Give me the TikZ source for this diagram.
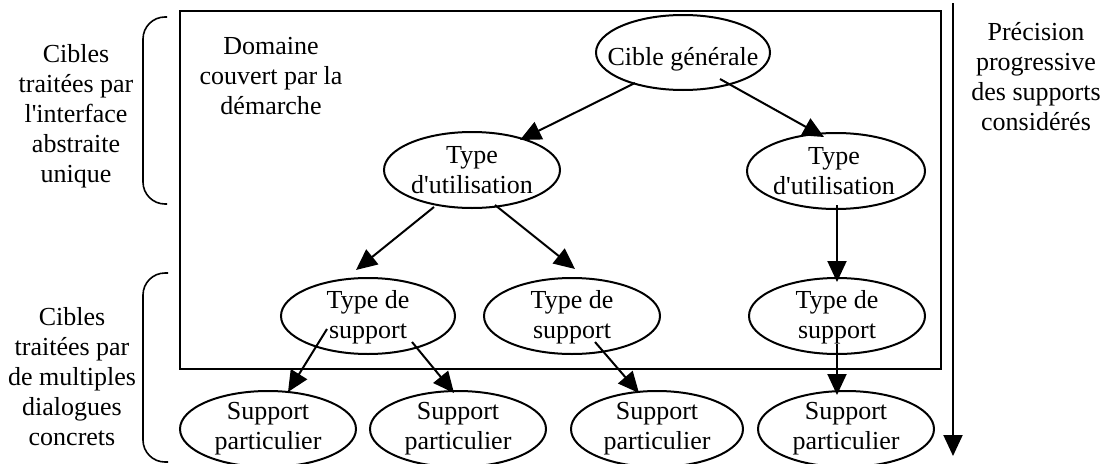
\documentclass[tikz,border=0pt]{standalone}
\usepackage{fontspec}
\setmainfont{Liberation Serif}
\usetikzlibrary{shapes.geometric,arrows.meta,calc}
\begin{document}
\begin{tikzpicture}[x=1pt,y=-1pt,
  font=\fontsize{26}{30}\selectfont,
  oval/.style={draw, ellipse, line width=2pt, minimum width=176pt,
               minimum height=76pt, inner sep=0pt},
  txt/.style={inner sep=0pt, align=center, anchor=north},
  link/.style={line width=2pt, -{Triangle[length=21pt,width=19pt]}},
  brace/.style={line width=1.6pt, rounded corners=22pt},
]
\useasboundingbox (0,0) rectangle (1116,463);
\clip (0,0) rectangle (1116,463);

% frame of the covered domain
\node[draw, line width=2.2pt, minimum width=761pt, minimum height=358pt,
      inner sep=0pt, anchor=north west] (dom) at (179,10) {};
\node[txt] (domt) at (271,37) {Domaine\\couvert par la\\démarche};

% ovals
\node[oval, minimum width=174pt, minimum height=75pt] (cg) at (683,52.5) {};
\node[oval] (tu1) at (472,170) {};
\node[oval, minimum width=178pt] (tu2) at (836,171) {};
\node[oval, minimum width=174pt] (ts1) at (368,316) {};
\node[oval] (ts2) at (572,316) {};
\node[oval] (ts3) at (837,316) {};
\node[oval] (sp1) at (268,429) {};
\node[oval] (sp2) at (458,429) {};
\node[oval, minimum width=172pt] (sp3) at (657,429) {};
\node[oval] (sp4) at (846,429) {};

% oval texts
\node[inner sep=0pt, anchor=base] (cgt) at (683,65) {Cible générale};
\node[txt] (tu1t) at (472,146) {Type\\d\textquotesingle utilisation};
\node[txt] (tu2t) at (834,147) {Type\\d\textquotesingle utilisation};
\node[txt] (ts1t) at (368,290) {Type de\\support};
\node[txt] (ts2t) at (572,290) {Type de\\support};
\node[txt] (ts3t) at (837,290) {Type de\\support};
\node[txt] (sp1t) at (268,402) {Support\\particulier};
\node[txt] (sp2t) at (458,402) {Support\\particulier};
\node[txt] (sp3t) at (657,402) {Support\\particulier};
\node[txt] (sp4t) at (846,402) {Support\\particulier};

% links
\draw[link] ($(cg)+(-48,30.5)$) -- ($(tu1)+(48,-30)$);
\draw[link] ($(cg)+(37,26.5)$) -- ($(tu2)+(-12,-34)$);
\draw[link] ($(tu1)+(-38,37)$) -- ($(ts1)+(-12,-46)$);
\draw[link] ($(tu1)+(23,35)$) -- ($(ts2)+(3,-47)$);
\draw[link] ($(tu2)+(1,34)$) -- ($(ts3)+(0,-34)$);
\draw[link] ($(ts1)+(-41,13)$) -- ($(sp1)+(20,-37)$);
\draw[link] ($(ts1)+(44,26)$) -- ($(sp2)+(-4,-36)$);
\draw[link] ($(ts2)+(23,26)$) -- ($(sp3)+(-18,-36)$);
\draw[link] ($(ts3)+(0,28)$) -- ($(sp4)+(-9,-34)$);

% side labels and brackets
\node[txt] (lt) at (76,44) {Cibles\\traitées par\\l\textquotesingle interface\\abstraite\\unique};
\node[txt] (lb) at (72,307) {Cibles\\traitées par\\de multiples\\dialogues\\concrets};
\draw[brace] (167,17) -- (143,17) -- (143,204) -- (167,204);
\draw[brace] (168,273) -- (143,273) -- (143,462) -- (168,462);

% progression arrow
\coordinate (ptop) at (953,3);
\coordinate (pbot) at (953,456);
\draw[link] (ptop) -- (pbot);
\node[txt] (prec) at (1036,22) {Précision\\progressive\\des supports\\considérés};
\end{tikzpicture}
\end{document}
